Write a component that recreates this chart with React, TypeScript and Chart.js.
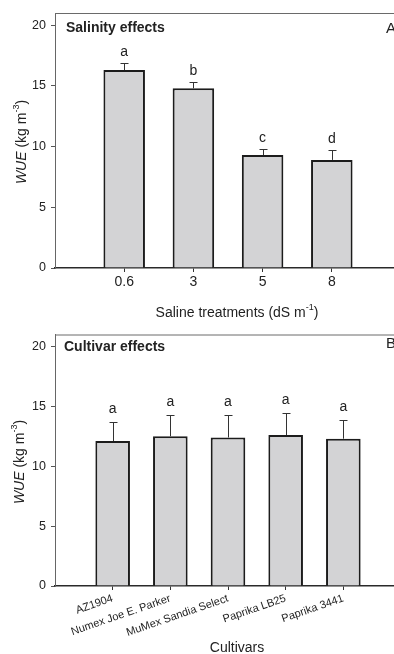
import React, { useEffect, useRef } from "react";
import { Chart, registerables } from "chart.js";

Chart.register(...registerables);

// Panel A: salinity treatments
const salinityLevels = ["0.6", "3", "5", "8"];
const salinityWue = [16.3, 14.8, 9.3, 8.9];
const salinityErr = [0.6, 0.55, 0.5, 0.8];
const salinityLetters = ["a", "b", "c", "d"];

// Panel B: cultivars
const cultivars = [
  "AZ1904",
  "Numex Joe E. Parker",
  "MuMex Sandia Select",
  "Paprika LB25",
  "Paprika 3441",
];
const cultivarWue = [12.1, 12.5, 12.4, 12.6, 12.3];
const cultivarErr = [1.6, 1.75, 1.9, 1.85, 1.6];
const cultivarLetters = ["a", "a", "a", "a", "a"];

const yTicks = [0, 5, 10, 15, 20];

const FONT = '"Liberation Sans", Arial, sans-serif';
const TEXT = "#222";

type Part = { text: string; italic?: boolean; sup?: boolean };

function drawRich(
  ctx: CanvasRenderingContext2D,
  parts: Part[],
  x: number,
  y: number,
  size: number,
  vertical: boolean
) {
  ctx.save();
  ctx.translate(x, y);
  if (vertical) ctx.rotate(-Math.PI / 2);
  const fontFor = (p: Part) =>
    `${p.italic ? "italic " : ""}${p.sup ? Math.round(size * 0.62) : size}px ${FONT}`;
  let total = 0;
  const widths = parts.map((p) => {
    ctx.font = fontFor(p);
    const w = ctx.measureText(p.text).width;
    total += w;
    return w;
  });
  let cx = -total / 2;
  ctx.textBaseline = "middle";
  ctx.textAlign = "left";
  ctx.fillStyle = TEXT;
  parts.forEach((p, i) => {
    ctx.font = fontFor(p);
    ctx.fillText(p.text, cx, p.sup ? -size * 0.38 : 0);
    cx += widths[i];
  });
  ctx.restore();
}

type PanelProps = {
  top: number;
  height: number;
  labels: string[];
  values: number[];
  errors: number[];
  letters: string[];
  heading: string;
  corner: string;
  cornerY: number;
  headingX: number;
  headingY: number;
  padTop: number;
  xAxisHeight: number;
  xTitle: Part[];
  xTitleY: number;
  yTitleX: number;
  yTitleY: number;
  rotation: number;
  xTickSize: number;
  letterGap: number;
};

function Panel(props: PanelProps) {
  const ref = useRef<HTMLCanvasElement | null>(null);

  useEffect(() => {
    const canvas = ref.current;
    if (!canvas) return;
    const n = props.labels.length;

    const decorations = {
      id: "panelDecorations",
      afterDatasetsDraw(chart: any) {
        const ctx: CanvasRenderingContext2D = chart.ctx;
        const area = chart.chartArea;
        const yScale = chart.scales.y;
        const meta = chart.getDatasetMeta(0);

        // top frame line
        ctx.save();
        ctx.strokeStyle = "#6a6a6a";
        ctx.lineWidth = 1;
        ctx.beginPath();
        ctx.moveTo(area.left, area.top + 0.5);
        ctx.lineTo(area.right + 2, area.top + 0.5);
        ctx.stroke();

        // error bars (upper half) and significance letters
        ctx.strokeStyle = "#333";
        ctx.lineWidth = 1;
        props.values.forEach((v, i) => {
          const bar = meta.data[i];
          const x = Math.round(bar.x) + 0.5;
          const yBar = yScale.getPixelForValue(v);
          const yTop = yScale.getPixelForValue(v + props.errors[i]);
          ctx.beginPath();
          ctx.moveTo(x, yBar);
          ctx.lineTo(x, Math.round(yTop) + 0.5);
          ctx.moveTo(x - 4, Math.round(yTop) + 0.5);
          ctx.lineTo(x + 4, Math.round(yTop) + 0.5);
          ctx.stroke();

          ctx.fillStyle = TEXT;
          ctx.font = `14px ${FONT}`;
          ctx.textAlign = "center";
          ctx.textBaseline = "alphabetic";
          ctx.fillText(props.letters[i], bar.x, yTop - props.letterGap);
        });

        // panel heading and corner letter
        ctx.fillStyle = TEXT;
        ctx.font = `bold 14px ${FONT}`;
        ctx.textAlign = "left";
        ctx.textBaseline = "middle";
        ctx.fillText(props.heading, props.headingX, props.headingY);
        ctx.font = `15px ${FONT}`;
        ctx.fillText(props.corner, 386, props.cornerY);

        // axis titles
        drawRich(
          ctx,
          [
            { text: "WUE", italic: true },
            { text: " (kg m" },
            { text: "-3", sup: true },
            { text: ")" },
          ],
          props.yTitleX,
          props.yTitleY,
          14,
          true
        );
        drawRich(ctx, props.xTitle, 237, props.xTitleY, 14, false);
        ctx.restore();
      },
    };

    const chart = new Chart(canvas, {
      type: "bar",
      data: {
        datasets: [
          {
            data: props.values.map((v, i) => ({ x: i + 1, y: v })),
            backgroundColor: "#d3d3d5",
            borderColor: "#1c1c1c",
            borderWidth: 2,
            barPercentage: 0.6,
            categoryPercentage: 1,
          },
        ],
      },
      options: {
        responsive: false,
        animation: false,
        devicePixelRatio: 1,
        layout: { padding: { top: props.padTop, right: 1, left: 0, bottom: 0 } },
        plugins: {
          legend: { display: false },
          tooltip: { enabled: false },
          title: { display: false },
        },
        scales: {
          x: {
            type: "linear",
            min: 0,
            max: n + 1,
            offset: false,
            afterBuildTicks: (axis: any) => {
              axis.ticks = props.labels.map((_, i) => ({ value: i + 1 }));
            },
            afterFit: (scale: any) => {
              scale.height = props.xAxisHeight;
            },
            grid: {
              drawOnChartArea: false,
              drawTicks: true,
              tickLength: 4,
              color: "#333",
              offset: false,
            },
            border: { display: true, color: "#2a2a2a", width: 1.5 },
            ticks: {
              autoSkip: false,
              minRotation: props.rotation,
              maxRotation: props.rotation,
              padding: 2,
              color: TEXT,
              font: { family: FONT, size: props.xTickSize },
              callback: (value: any) => props.labels[Number(value) - 1] ?? "",
            },
          },
          y: {
            min: 0,
            max: 21,
            afterBuildTicks: (axis: any) => {
              axis.ticks = yTicks.map((v) => ({ value: v }));
            },
            afterFit: (scale: any) => {
              scale.width = 55;
            },
            grid: {
              drawOnChartArea: false,
              drawTicks: true,
              tickLength: 4,
              color: "#555",
            },
            border: { display: true, color: "#666", width: 1 },
            ticks: {
              padding: 5,
              color: TEXT,
              font: { family: FONT, size: 12.5 },
            },
          },
        },
      },
      plugins: [decorations],
    } as any);

    return () => chart.destroy();
  }, []);

  return (
    <div
      style={{
        position: "absolute",
        left: 0,
        top: props.top,
        width: 402,
        height: props.height,
      }}
    >
      <canvas ref={ref} width={402} height={props.height} style={{ display: "block" }} />
    </div>
  );
}

export default function App() {
  return (
    <div
      style={{
        position: "fixed",
        left: 0,
        top: 0,
        width: 394,
        height: 654,
        overflow: "hidden",
        background: "#fff",
      }}
    >
      <Panel
        top={0}
        height={322}
        labels={salinityLevels}
        values={salinityWue}
        errors={salinityErr}
        letters={salinityLetters}
        heading="Salinity effects"
        corner="A"
        cornerY={29}
        headingX={66}
        headingY={28}
        padTop={13}
        xAxisHeight={54}
        xTitle={[
          { text: "Saline treatments (dS m" },
          { text: "-1", sup: true },
          { text: ")" },
        ]}
        xTitleY={313}
        yTitleX={22}
        yTitleY={142}
        rotation={0}
        xTickSize={14}
        letterGap={7}
      />
      <Panel
        top={322}
        height={332}
        labels={cultivars}
        values={cultivarWue}
        errors={cultivarErr}
        letters={cultivarLetters}
        heading="Cultivar effects"
        corner="B"
        cornerY={22}
        headingX={64}
        headingY={25}
        padTop={10}
        xAxisHeight={68}
        xTitle={[{ text: "Cultivars" }]}
        xTitleY={326}
        yTitleX={20}
        yTitleY={140}
        rotation={19}
        xTickSize={11}
        letterGap={9}
      />
    </div>
  );
}
